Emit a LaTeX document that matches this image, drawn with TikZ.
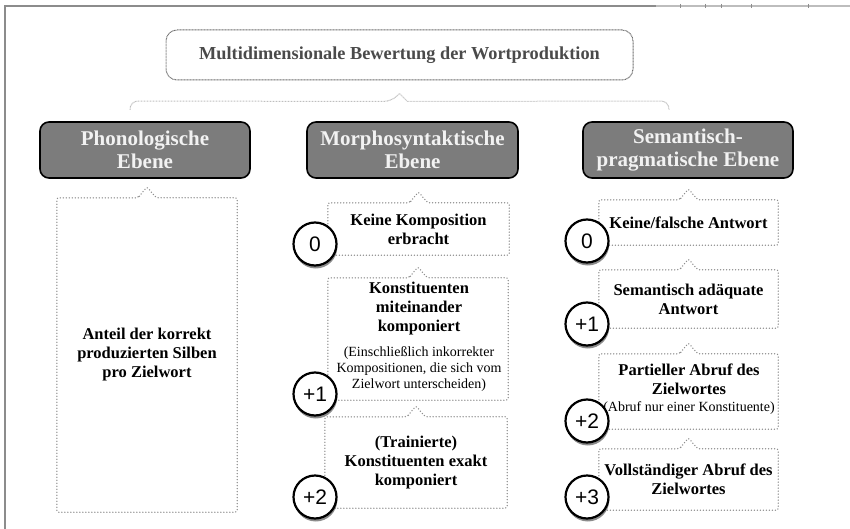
\documentclass[tikz,border=0pt]{standalone}
\usepackage{fontspec}
\setmainfont{Liberation Serif}
\newfontfamily\badgefont{Liberation Sans}
\usetikzlibrary{calc,shadows}

\definecolor{headfill}{HTML}{7C7C7C}
\definecolor{headtext}{HTML}{F2F2F2}
\definecolor{dotgray}{HTML}{8E8E8E}
\definecolor{titleline}{HTML}{6E6E6E}
\definecolor{titletext}{HTML}{4A4A4A}
\definecolor{bracegray}{HTML}{BEBEBE}
\definecolor{framegray}{HTML}{8C8C8C}
\definecolor{framelight}{HTML}{BDBDBD}

% dotted outline with a small peak in the middle of the top edge
\newcommand\calloutframe[1]{%
  \draw[dotframe] ($(#1.north)+(-9,0)$) -- ($(#1.north)+(0,-11)$) -- ($(#1.north)+(9,0)$)
    -- (#1.north east) -- (#1.south east) -- (#1.south west) -- (#1.north west) -- cycle;}

\begin{document}
\begin{tikzpicture}[x=1pt,y=-1pt,
  titlebox/.style={draw=titleline, line width=1pt, dash pattern=on 0.9pt off 0.6pt,
    rounded corners=11pt, minimum width=467pt, minimum height=50pt, inner sep=0pt,
    text=titletext, font=\bfseries\fontsize{18.3}{20}\selectfont},
  header/.style={draw=black, line width=1.6pt, fill=headfill, rounded corners=9pt,
    minimum width=210pt, minimum height=56pt, inner sep=0pt, align=center,
    text=headtext, font=\bfseries\fontsize{21}{23}\selectfont},
  area/.style={inner sep=0pt, align=center, font=\bfseries\fontsize{16.5}{19}\selectfont},
  note/.style={inner sep=0pt, align=center, font=\fontsize{14}{16}\selectfont},
  slot/.style={inner sep=0pt, minimum width=180pt},
  dotframe/.style={draw=dotgray, line width=1.5pt, dash pattern=on 0pt off 3pt,
    line cap=round, rounded corners=2pt},
  badge/.style={circle, draw=black, line width=2.2pt, fill=white, minimum size=43pt,
    inner sep=0pt, font=\badgefont\fontsize{21}{21}\selectfont,
    drop shadow={shadow xshift=0.8pt, shadow yshift=-3pt, opacity=0.45, fill=black}},
  brace/.style={draw=bracegray, line width=1pt, dash pattern=on 0.9pt off 0.6pt,
    rounded corners=8pt}
]
\useasboundingbox (0,0) rectangle (850,529);

% page frame
\draw[framegray, line width=1.2pt] (5,529) -- (5,6) -- (656,6);
\draw[framelight, line width=1.2pt] (656,6) -- (850,6);
\foreach \tx in {680,705,721,751,808}
  \draw[framegray, line width=0.6pt] (\tx,4) -- (\tx,8);

% title and the bracket below it
\node[titlebox] (title) at (399.5,55) {Multidimensionale Bewertung der Wortproduktion};
\coordinate (peak) at ($(title.south)+(0,13)$);
\coordinate (bl) at (130,110);
\coordinate (br) at (669,110);
\draw[brace] (bl) -- (bl |- 0,101) -- ($(peak)+(-8,8)$) [sharp corners] -- (peak)
  -- ($(peak)+(8,8)$) [rounded corners=8pt] -- (br |- 0,101) -- (br);

% level headers
\node[header] (hph) at (145,150) {Phonologische\\Ebene};
\node[header, minimum width=211pt] (hmo) at (412.5,150) {Morphosyntaktische\\Ebene};
\node[header] (hse) at (688,150) {Semantisch-\\pragmatische Ebene};

% phonological level
\node[area, minimum width=180pt, minimum height=314pt] (ph) at (147,355)
  {Anteil der korrekt\\produzierten Silben\\pro Zielwort};
\calloutframe{ph}

% morphosyntactic level
\node[area, minimum width=181pt, minimum height=52pt] (mo0) at (418.5,229)
  {Keine Komposition\\erbracht};
\node[slot, minimum height=122pt] (mo1) at (418,339) {};
\node[area] (mo1a) at (419,309) {Konstituenten\\miteinander\\komponiert};
\node[note] (mo1b) at (419,369) {(Einschließlich inkorrekter\\Kompositionen, die sich vom\\Zielwort unterscheiden)};
\node[area, minimum width=182pt, minimum height=91pt] (mo2) at (416,462.5)
  {(Trainierte)\\Konstituenten exakt\\komponiert};
\calloutframe{mo0}
\calloutframe{mo1}
\calloutframe{mo2}

% semantic-pragmatic level
\node[area, minimum width=179pt, minimum height=45pt] (se0) at (688.5,222.5)
  {Keine/falsche Antwort};
\node[area, minimum width=179pt, minimum height=58pt] (se1) at (688.5,299)
  {Semantisch adäquate\\Antwort};
\node[slot, minimum width=179pt, minimum height=75pt] (se2) at (688.5,391.5) {};
\node[area] (se2a) at (689,379) {Partieller Abruf des\\Zielwortes};
\node[note] (se2b) at (689,408.5) {(Abruf nur einer Konstituente)};
\node[area, minimum width=179pt, minimum height=61pt] (se3) at (688.5,479.5)
  {Vollständiger Abruf des\\Zielwortes};
\calloutframe{se0}
\calloutframe{se1}
\calloutframe{se2}
\calloutframe{se3}

% score badges
\node[badge] (m0) at (315,244) {0};
\node[badge] (m1) at (315,394) {+1};
\node[badge] (m2) at (315,497) {+2};
\node[badge] (s0) at (587,241) {0};
\node[badge] (s1) at (587,324) {+1};
\node[badge] (s2) at (587,421) {+2};
\node[badge] (s3) at (587,497) {+3};
\end{tikzpicture}
\end{document}
